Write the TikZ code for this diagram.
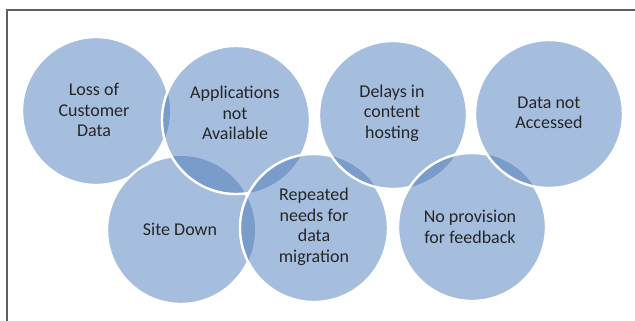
\documentclass[tikz,border=0pt]{standalone}
\usepackage{fontspec}
\setmainfont{Carlito}
\definecolor{bubblefill}{RGB}{166,190,222}
\definecolor{lensfill}{RGB}{122,156,202}
\definecolor{txt}{RGB}{38,38,38}
\definecolor{framegray}{RGB}{95,95,95}
\begin{document}
\begin{tikzpicture}[x=1pt,y=-1pt,
  bubble/.style={fill=bubblefill},
  lens/.style={fill=lensfill},
  rim/.style={draw=white,line width=2.4pt},
  caption/.style={align=center,text=txt,font=\fontsize{18}{20.5}\selectfont,inner sep=0pt}]
\useasboundingbox (0,0) rectangle (635,321);
\fill[white] (0,0) rectangle (635,321);
\draw[framegray,line width=1.5pt] (7,330) -- (7,10) -- (640,10);
\def\R{74}
\coordinate (cLoss) at (96,111);
\coordinate (cSite) at (181,230);
\coordinate (cApps) at (236,120);
\coordinate (cRep)  at (314,228);
\coordinate (cDel)  at (393,115);
\coordinate (cNop)  at (472,227);
\coordinate (cDat)  at (549,114);
% 1 Loss
\fill[bubble] (cLoss) circle[radius=\R];
\draw[rim] (cLoss) circle[radius=\R];
% 2 Site
\fill[bubble] (cSite) circle[radius=\R];
\begin{scope}\clip (cSite) circle[radius=\R];
  \fill[lens] (cLoss) circle[radius=\R];
\end{scope}
\draw[rim] (cSite) circle[radius=\R];
% 3 Apps
\fill[bubble] (cApps) circle[radius=\R];
\begin{scope}\clip (cApps) circle[radius=\R];
  \fill[lens] (cLoss) circle[radius=\R];
  \fill[lens] (cSite) circle[radius=\R];
\end{scope}
\draw[rim] (cApps) circle[radius=\R];
% 4 Repeated
\fill[bubble] (cRep) circle[radius=\R];
\begin{scope}\clip (cRep) circle[radius=\R];
  \fill[lens] (cSite) circle[radius=\R];
  \fill[lens] (cApps) circle[radius=\R];
\end{scope}
\draw[rim] (cRep) circle[radius=\R];
% 5 Delays
\fill[bubble] (cDel) circle[radius=\R];
\begin{scope}\clip (cDel) circle[radius=\R];
  \fill[lens] (cRep) circle[radius=\R];
\end{scope}
\draw[rim] (cDel) circle[radius=\R];
% 6 No provision
\fill[bubble] (cNop) circle[radius=\R];
\begin{scope}\clip (cNop) circle[radius=\R];
  \fill[lens] (cDel) circle[radius=\R];
\end{scope}
\draw[rim] (cNop) circle[radius=\R];
% 7 Data
\fill[bubble] (cDat) circle[radius=\R];
\begin{scope}\clip (cDat) circle[radius=\R];
  \fill[lens] (cNop) circle[radius=\R];
\end{scope}
\draw[rim] (cDat) circle[radius=\R];
% texts
\node[caption] (loss) at (94,110) {Loss of\\Customer\\Data};
\node[caption] (site) at (180,229) {Site Down};
\node[caption] (apps) at (235,113) {Applications\\not\\Available};
\node[caption] (rep)  at (314,227) {Repeated\\needs for\\data\\migration};
\node[caption] (del)  at (392,113) {Delays in\\content\\hosting};
\node[caption] (nop)  at (470,227) {No provision\\for feedback};
\node[caption] (dat)  at (549,113) {Data not\\Accessed};
\end{tikzpicture}
\end{document}
